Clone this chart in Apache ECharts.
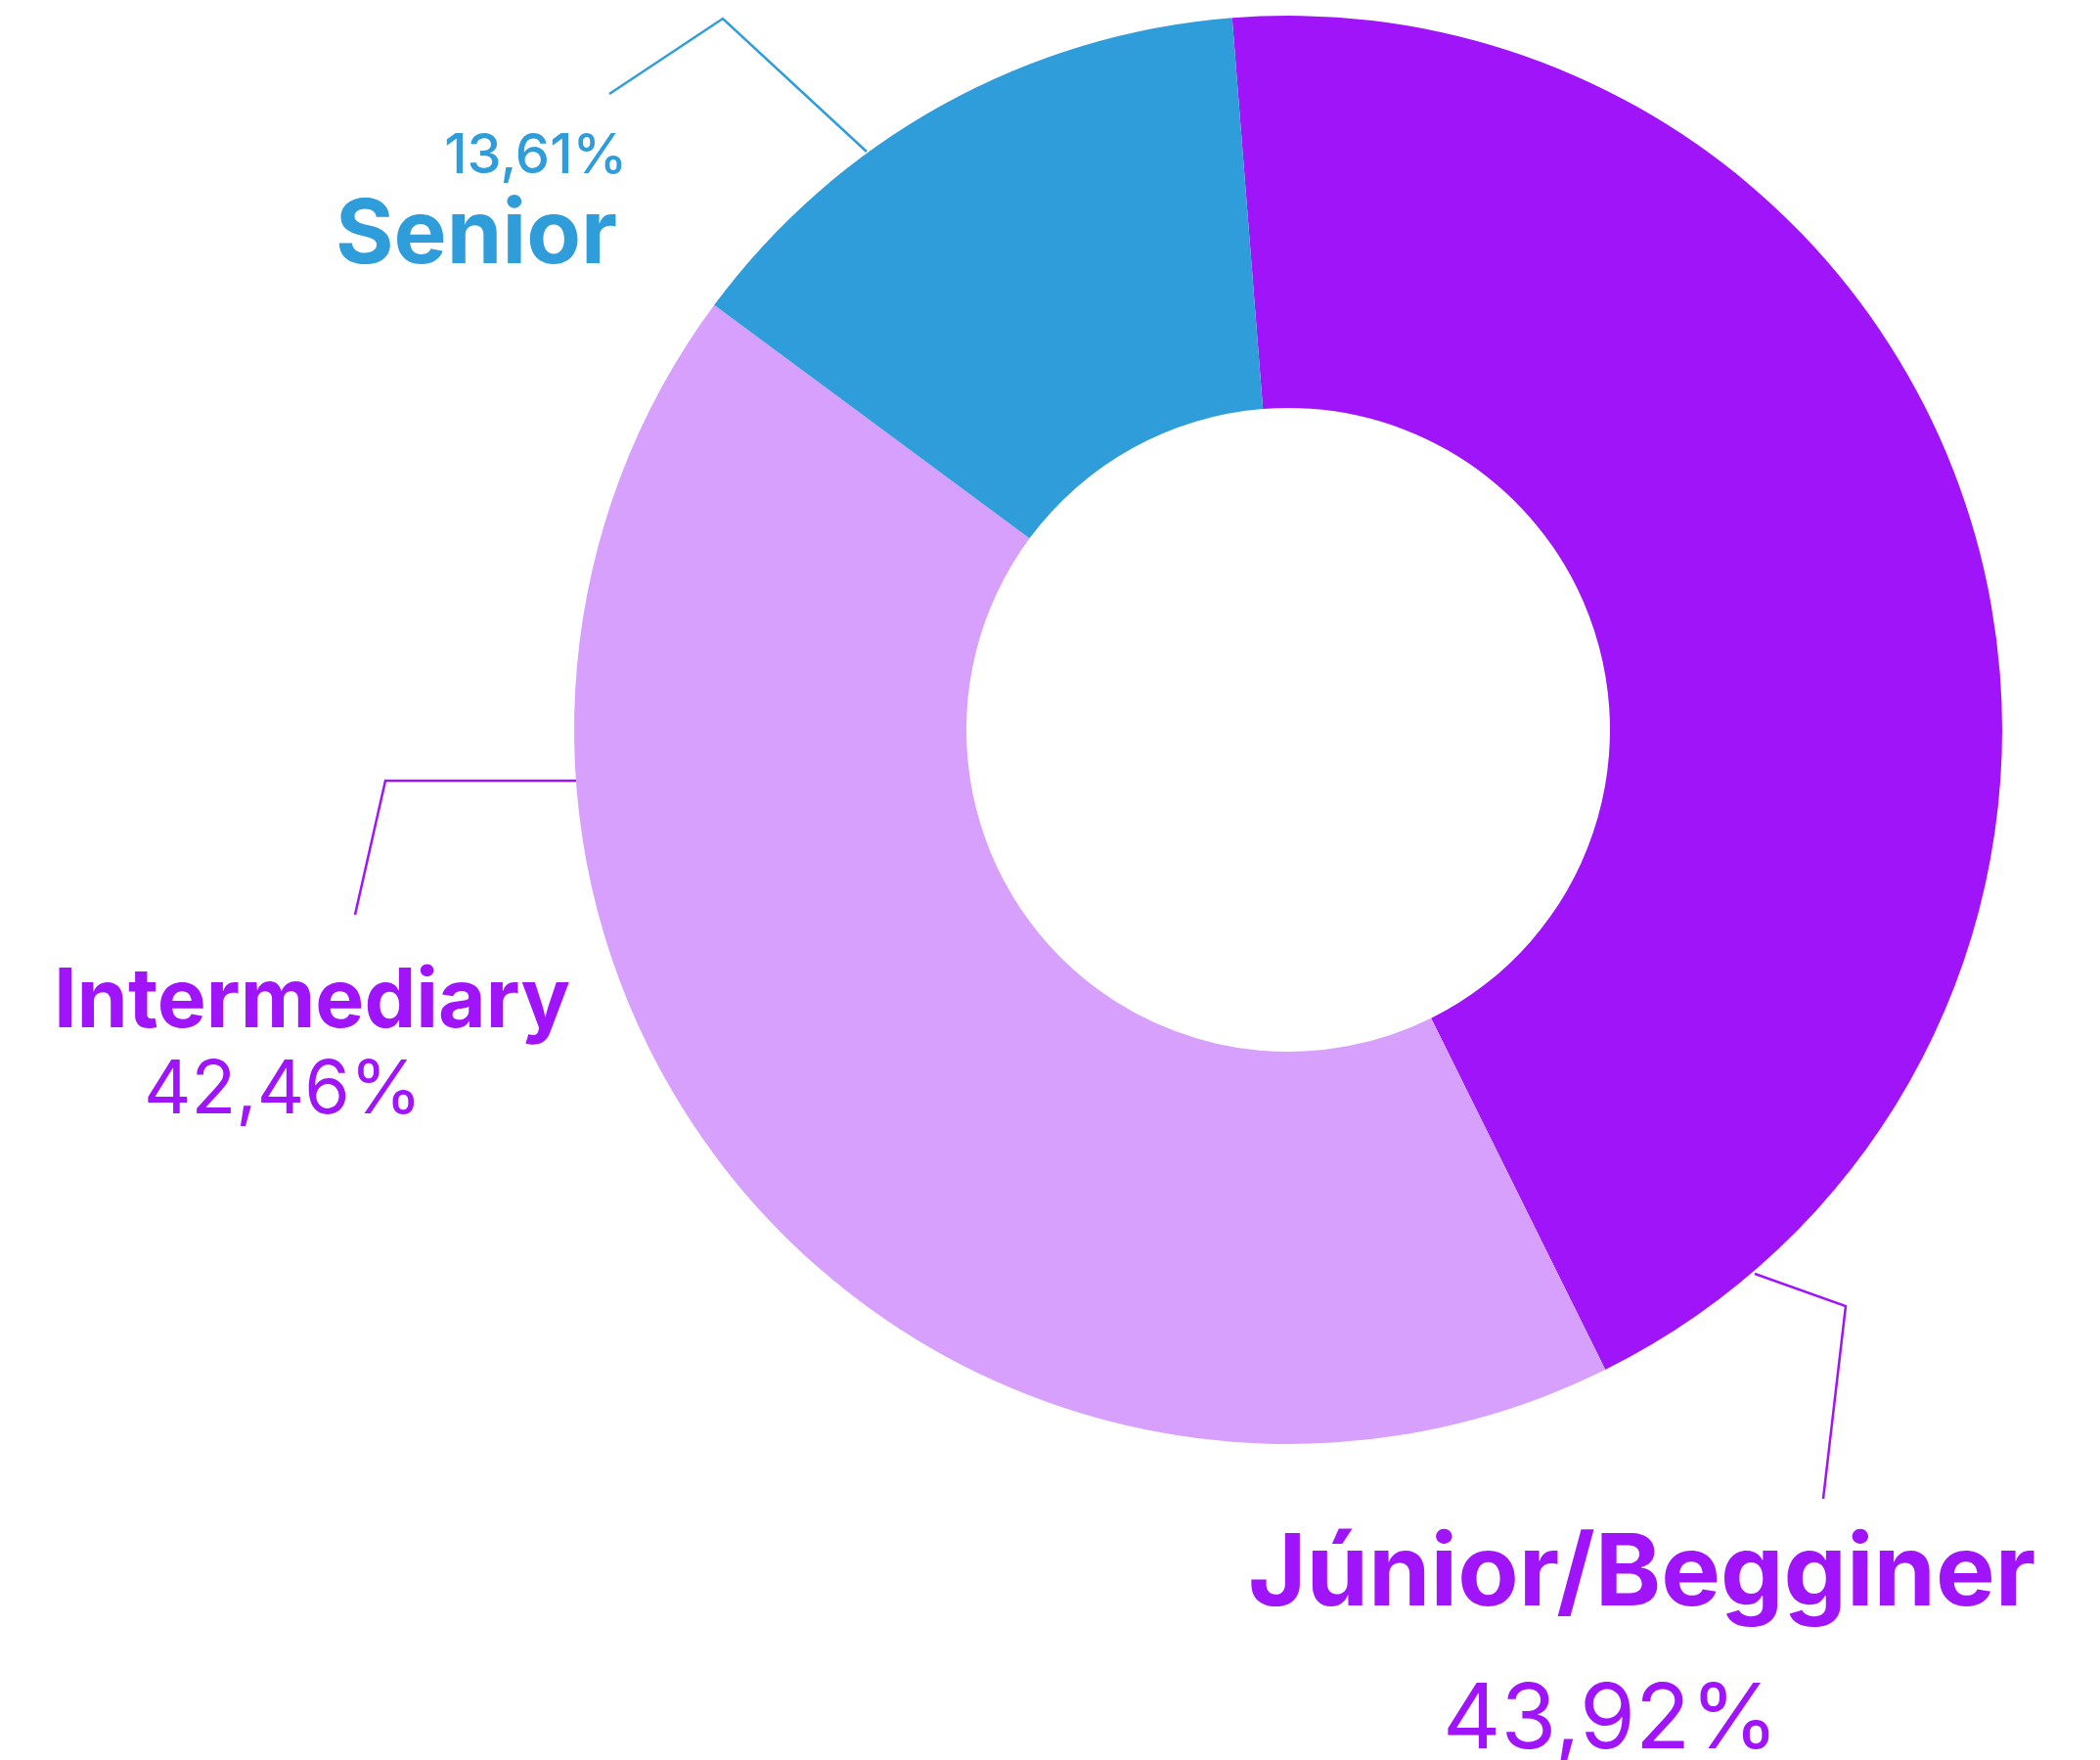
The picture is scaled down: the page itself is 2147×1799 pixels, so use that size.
<!DOCTYPE html>
<html>
<head>
<meta charset="utf-8">
<script src="https://cdn.jsdelivr.net/npm/echarts@6/dist/echarts.min.js"></script>
<style>
  html, body { margin: 0; padding: 0; background: #fff; }
  #chart { width: 2147px; height: 1799px; }
</style>
</head>
<body>
<div id="chart"></div>
<script>
// data
const categories = ['Júnior/Begginer', 'Intermediary', 'Senior'];
const shares = [43.92, 42.46, 13.61];
const sliceColors = ['#A014F9', '#D7A0FC', '#2E9DDA'];
const textColors = ['#A014F9', '#A014F9', '#2E9DDA'];

// where each label sits and how its line bends (pixels)
const labelPlaces = [
  { x: 1276, y: 1555, align: 'left', pctPad: [0, 0, 0, 199], namePad: [0, 0, 0, 0],
    l1: 110, l2: 189, nameSize: 102, pctSize: 92,
    points: [[1794, 1302], [1887, 1335], [1864, 1532]] },
  { x: 55, y: 980, align: 'left', pctPad: [0, 0, 0, 92], namePad: [0, 0, 0, 0],
    l1: 90, l2: 90, nameSize: 84, pctSize: 75,
    points: [[589, 798], [394, 798], [363, 935]] },
  { x: 641, y: 130, align: 'right', pctPad: [0, 0, 0, 0], namePad: [0, 10, 0, 0],
    l1: 60, l2: 104, nameSize: 91, pctSize: 56,
    points: [[886, 155], [739, 19], [623, 96]] }
];

const fmt = v => v.toFixed(2).replace('.', ',') + '%';

const pieData = categories.map((name, i) => {
  const p = labelPlaces[i];
  const senior = i === 2;
  return {
    name: name,
    value: shares[i],
    itemStyle: { color: sliceColors[i] },
    label: {
      color: textColors[i],
      formatter: senior ? '{pct|' + fmt(shares[i]) + '}\n{name|' + name + '}'
                        : '{name|' + name + '}\n{pct|' + fmt(shares[i]) + '}',
      rich: {
        name: {
          fontFamily: 'Inter', fontWeight: 700, fontSize: p.nameSize,
          color: textColors[i], align: p.align,
          lineHeight: senior ? p.l2 : p.l1,
          padding: p.namePad
        },
        pct: {
          fontFamily: 'Inter', fontWeight: senior ? 500 : 400, fontSize: p.pctSize,
          color: textColors[i], align: p.align,
          lineHeight: senior ? p.l1 : p.l2,
          padding: p.pctPad
        }
      }
    },
    labelLine: { lineStyle: { color: textColors[i], width: 2.5 } }
  };
});

const chart = echarts.init(document.getElementById('chart'));
chart.setOption({
  backgroundColor: '#ffffff',
  animation: false,
  series: [{
    type: 'pie',
    center: [1317, 746],
    radius: [329, 730],
    startAngle: 94.5,
    clockwise: true,
    avoidLabelOverlap: false,
    label: { show: true, position: 'outside' },
    labelLine: { show: true, smooth: false },
    labelLayout: function (params) {
      const p = labelPlaces[params.dataIndex];
      return {
        x: p.x,
        y: p.y,
        align: p.align,
        verticalAlign: 'top',
        labelLinePoints: p.points
      };
    },
    data: pieData
  }]
});
</script>
</body>
</html>
